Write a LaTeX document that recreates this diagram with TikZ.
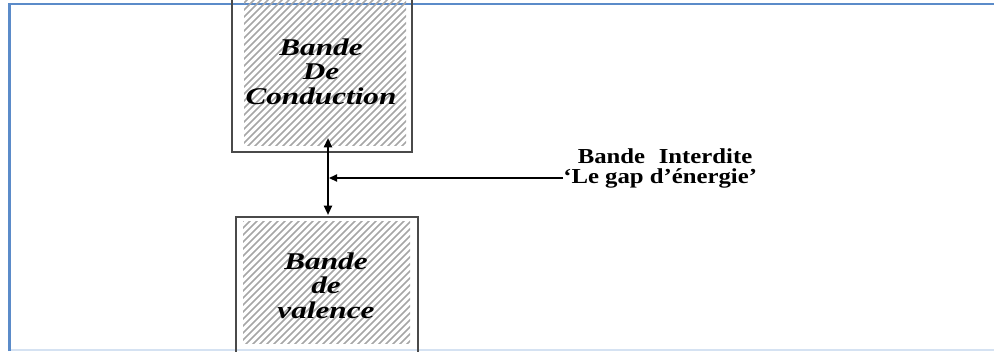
\documentclass[tikz,border=0pt]{standalone}
\usepackage{fontspec}
\setmainfont{Liberation Serif}
\usetikzlibrary{arrows.meta}
\definecolor{frameblue}{HTML}{5B8BC9}
\definecolor{framelight}{HTML}{D5E2F2}
\definecolor{bandgray}{HTML}{4A4A4A}
\definecolor{hatchgray}{HTML}{A6A6A6}
\tikzset{
  bandline/.style={draw=bandgray, line width=1.5pt},
  hatchline/.style={draw=hatchgray, line width=1.1pt},
  bandlabel/.style={inner sep=0pt, font=\fontsize{18}{18.5}\selectfont\bfseries\itshape},
  gaplabel/.style={inner sep=0pt, font=\fontsize{16}{16}\selectfont\bfseries},
  gaparrow/.style={line width=1.5pt, {Triangle[width=6pt,length=7pt]}-{Triangle[width=6pt,length=7pt]}},
  pointer/.style={line width=0.9pt, -{Triangle[width=5.5pt,length=6pt]}},
}
\begin{document}
\begin{tikzpicture}[x=0.75pt,y=-0.75pt]
\useasboundingbox (0,0) rectangle (994,351);
% outer frame
\draw[framelight, line width=1.5pt] (9.5,350) -- (994,350);
\draw[frameblue, line width=1.6pt] (9.5,351) -- (9.5,3.8) -- (994,3.8);
% hatching
\begin{scope}
  \clip (244,0) rectangle (406,145);
  \foreach \i in {-400,-393,...,700} \draw[hatchline] (\i,360) -- ++(400,-400);
\end{scope}
\begin{scope}
  \clip (243,221) rectangle (410,343);
  \foreach \i in {-400,-393,...,700} \draw[hatchline] (\i,360) -- ++(400,-400);
\end{scope}
% bands
\coordinate (cTL) at (232,-5);
\coordinate (cBR) at (412,152);
\draw[bandline] (cTL) |- (cBR) -- (cBR |- cTL);
\coordinate (vTL) at (236,217);
\coordinate (vBR) at (418,356);
\draw[bandline] (vTL |- vBR) -- (vTL) -- (vTL -| vBR) -- (vBR);
% labels
\node[bandlabel] (cond) at (321,75) {\scalebox{1.3}[1]{\begin{tabular}{@{}c@{}}Bande\\De\\Conduction\end{tabular}}};
\node[bandlabel] (val) at (326,289) {\scalebox{1.3}[1]{\begin{tabular}{@{}c@{}}Bande\\de\\valence\end{tabular}}};
% gap arrow
\coordinate (gtop) at (328,138);
\coordinate (gbot) at (328,215);
\draw[gaparrow] (gtop) -- (gbot);
\node[gaplabel, anchor=west] (gap2) at (563,178) {\scalebox{1.16}[1]{‘Le gap d'énergie'}};
\node[gaplabel] (gap1) at (665,156) {\scalebox{1.16}[1]{Bande\hspace{0.55em}Interdite}};
\draw[pointer, shorten >=0.8pt] (gap2.west) -- (gap2.west -| gtop);
\end{tikzpicture}
\end{document}
